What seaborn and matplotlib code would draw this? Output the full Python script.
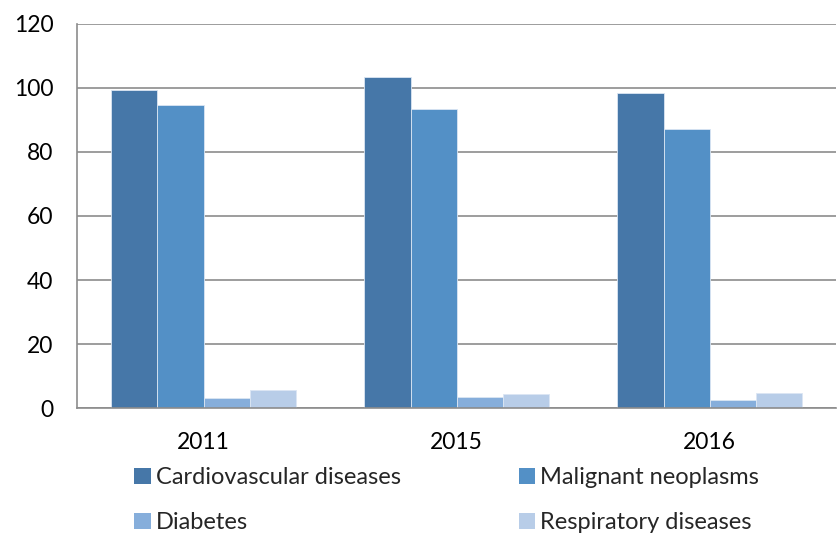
import matplotlib

matplotlib.use("Agg")
import matplotlib.pyplot as plt
import pandas as pd
import seaborn as sns
from matplotlib.patches import Patch

years = ["2011", "2015", "2016"]
causes = ["Cardiovascular diseases", "Malignant neoplasms", "Diabetes", "Respiratory diseases"]
cardiovascular = [99.5, 103.3, 98.4]
malignant = [94.7, 93.3, 87.2]
diabetes = [3.1, 3.4, 2.5]
respiratory = [5.5, 4.4, 4.6]
colors = ["#4677a8", "#5390c6", "#86aedb", "#b8cde8"]

df = pd.DataFrame(
    {
        "year": years * 4,
        "cause": [c for c in causes for _ in years],
        "value": cardiovascular + malignant + diabetes + respiratory,
    }
)

sns.set_style("white")
plt.rcParams["font.family"] = ["Lato", "DejaVu Sans"]

fig = plt.figure(figsize=(8.38, 5.33), dpi=100)
ax = fig.add_axes([0.092, 0.2345, 0.906, 0.7205])

sns.barplot(
    data=df, x="year", y="value", hue="cause", order=years, hue_order=causes,
    palette=colors, width=0.73, saturation=1, ax=ax, legend=False,
    edgecolor="#dbe6f3", linewidth=0.6, errorbar=None,
)

ax.set_ylim(0, 120)
ax.set_xlim(-0.5, 2.5)
ax.set_yticks(range(0, 121, 20))
ax.yaxis.grid(True, color="#8c8c8c", linewidth=1.2)
ax.set_axisbelow(True)
ax.set_xlabel("")
ax.set_ylabel("")

for side in ["top", "right"]:
    ax.spines[side].set_visible(False)
for side in ["left", "bottom"]:
    ax.spines[side].set_color("#8c8c8c")
    ax.spines[side].set_linewidth(1.2)

ax.tick_params(axis="y", length=6, width=1.2, color="#8c8c8c", pad=11, labelsize=16.5, labelcolor="#000000")
ax.tick_params(axis="x", which="major", length=0, pad=17, labelsize=16.5, labelcolor="#000000")
ax.set_xticks([-0.5, 0.5, 1.5, 2.5], minor=True)
ax.tick_params(axis="x", which="minor", length=6, width=1.2, color="#8c8c8c")

# column-first legend order: left column cardio/diabetes, right column malignant/respiratory
order = [0, 2, 1, 3]
handles = [Patch(facecolor=colors[i], edgecolor="none") for i in order]
labels = [causes[i] for i in order]
fig.legend(
    handles, labels, ncol=2, loc="lower left", bbox_to_anchor=(0.135, -0.04),
    frameon=False, fontsize=17, handlelength=0.7, handleheight=0.7,
    handletextpad=0.2, columnspacing=5.0, labelspacing=1.0,
)

fig.savefig("out.png", dpi=100)
